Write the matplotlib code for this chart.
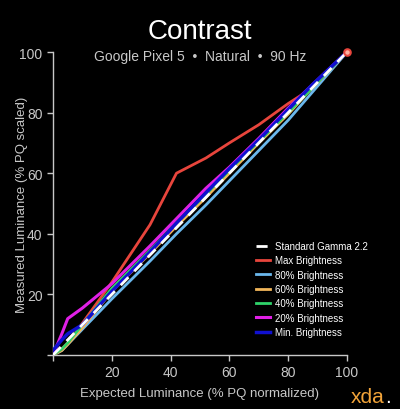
import matplotlib
matplotlib.use("Agg")
import matplotlib.pyplot as plt

plt.rcParams["font.family"] = ["Liberation Sans", "DejaVu Sans"]

# expected luminance (% PQ normalized)
x = [0, 3, 5, 10, 20, 33, 42, 52, 60, 70, 80, 88, 100]

gamma = [0, 3, 5, 10, 20, 33, 42, 52, 60, 70, 80, 88, 100]
max_b = [0, 2, 4, 10.5, 24, 43, 60, 65, 70, 76, 83, 88, 100]
b80 = [0, 1.5, 3.5, 8.5, 18.5, 31, 40, 49.5, 57.5, 67.5, 77.5, 86.5, 100]
b60 = [0, 1.5, 3.5, 9, 21, 33.5, 42.5, 52, 60, 70, 79.5, 88, 100]
b40 = [0, 2, 4, 10, 22, 34.5, 43.5, 53, 61, 70.5, 80, 88, 100]
b20 = [0, 7, 12, 15.5, 23.5, 36, 45, 55, 62, 71.5, 81.5, 89, 100]
b_min = [1.5, 5, 7, 10, 21, 34, 43.5, 53.5, 61.5, 71, 81, 89, 100]

labels = ["Standard Gamma 2.2", "Max Brightness", "80% Brightness", "60% Brightness",
          "40% Brightness", "20% Brightness", "Min. Brightness"]

bg = "black"
fg = "#c8c8c8"

fig = plt.figure(figsize=(4, 4.1), dpi=100, facecolor=bg)
ax = fig.add_axes([0.1325, 0.1317, 0.735, 0.739], facecolor=bg)

l80, = ax.plot(x, b80, color="#6bb8ec", lw=2, zorder=2)
l60, = ax.plot(x, b60, color="#f2b65a", lw=2, zorder=3)
l40, = ax.plot(x, b40, color="#2fd36a", lw=2, zorder=4)
lmax, = ax.plot(x, max_b, color="#e8453c", lw=2, zorder=3.5)
l20, = ax.plot(x, b20, color="#e020e6", lw=2.2, zorder=6)
lmin, = ax.plot(x, b_min, color="#1010d0", lw=2.5, zorder=7)
lg, = ax.plot(x, gamma, color="white", lw=2, ls=(0, (4, 3)), zorder=8)
ax.scatter([100], [100], s=22, color="#ffb0a0", edgecolor="#e8453c", lw=1.5, zorder=9,
           clip_on=False)

ax.set_xlim(0, 100)
ax.set_ylim(0, 100)
ax.set_xticks([0, 20, 40, 60, 80, 100])
ax.set_xticklabels(["", "20", "40", "60", "80", "100"])
ax.set_yticks([0, 20, 40, 60, 80, 100])
ax.set_yticklabels(["", "20", "40", "60", "80", "100"])
ax.tick_params(colors=fg, labelsize=10, length=4, width=1)
for s in ["top", "right"]:
    ax.spines[s].set_visible(False)
for s in ["left", "bottom"]:
    ax.spines[s].set_color(fg)
    ax.spines[s].set_linewidth(1)

ax.set_xlabel("Expected Luminance (% PQ normalized)", color=fg, fontsize=9.5, va="center")
ax.set_ylabel("Measured Luminance (% PQ scaled)", color=fg, fontsize=9.5, va="center")
ax.xaxis.set_label_coords(0.5, -0.125)
ax.yaxis.set_label_coords(-0.105, 0.5)

leg = ax.legend([lg, lmax, l80, l60, l40, l20, lmin], labels, loc="lower right",
                bbox_to_anchor=(1.1, 0.03), frameon=False, fontsize=7, handlelength=1.4,
                handletextpad=0.5, labelspacing=0.45)
for t in leg.get_texts():
    t.set_color("white")

fig.text(0.5, 0.922, "Contrast", color="white", fontsize=20, ha="center", va="center")
fig.text(0.5, 0.861, "Google Pixel 5  \u2022  Natural  \u2022  90 Hz", color=fg,
         fontsize=10, ha="center", va="center")
fig.text(0.962, 0.018, "xda", color="#f2a43a", fontsize=15, ha="right", va="baseline")
fig.text(0.964, 0.018, ".", color="white", fontsize=15, ha="left", va="baseline")

fig.savefig("out.png", dpi=100, facecolor=bg)
